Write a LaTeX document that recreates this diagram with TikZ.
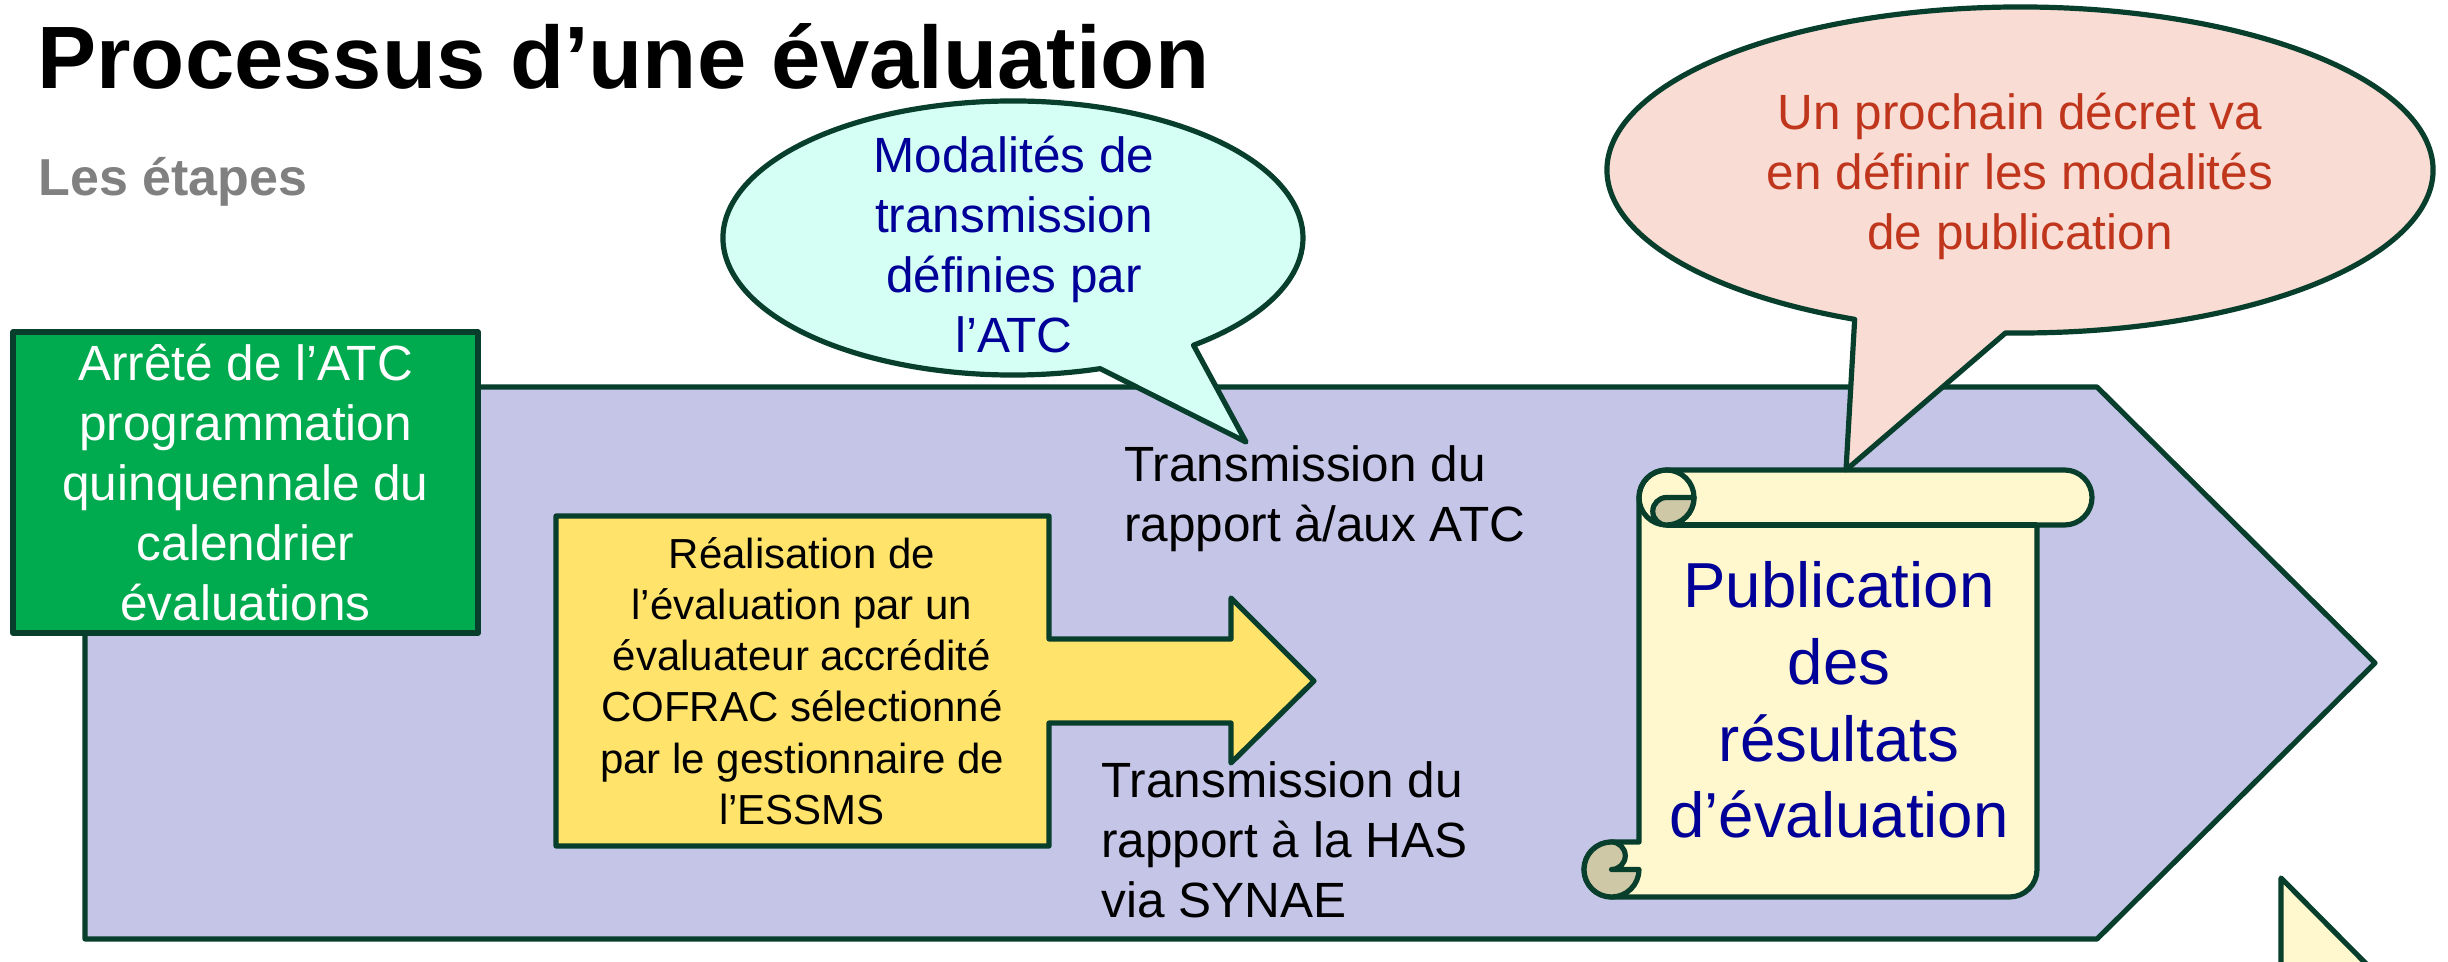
\documentclass[tikz,border=0pt]{standalone}
\usepackage{fontspec}
\setmainfont{Liberation Sans}
\usetikzlibrary{calc}

\definecolor{bord}{RGB}{8,62,44}
\definecolor{lavande}{RGB}{197,197,232}
\definecolor{vert}{RGB}{0,170,78}
\definecolor{jaune}{RGB}{255,227,107}
\definecolor{cyanclair}{RGB}{213,255,244}
\definecolor{rose}{RGB}{249,220,212}
\definecolor{rouille}{RGB}{192,54,28}
\definecolor{marine}{RGB}{0,0,153}
\definecolor{parchemin}{RGB}{255,248,206}
\definecolor{enroule}{RGB}{207,200,166}
\definecolor{gris}{RGB}{128,128,128}

\begin{document}
\begin{tikzpicture}[
        x=0.5pt, y=-0.5pt,
        contour/.style={draw=bord, line width=2.6pt, line join=round},
        texte/.style={inner sep=0pt, align=center,
          font=\fontsize{24.75}{30}\selectfont},
        petit/.style={inner sep=0pt, align=center,
          font=\fontsize{21}{25.6}\selectfont},
        grand/.style={inner sep=0pt, align=center, text=marine,
          font=\fontsize{31.8}{38.35}\selectfont}
      ]
        % cadre
        \useasboundingbox (0,0) rectangle (2448,962);
        % titre
        \node[anchor=base west, inner sep=0pt,
          font=\bfseries\fontsize{44.3}{50}\selectfont] (titre) at (37,89) {Processus d’une évaluation};
        \node[anchor=base west, inner sep=0pt, text=gris,
          font=\bfseries\fontsize{26}{30}\selectfont] (etapes) at (38,196) {Les étapes};
        % grande flèche
        \draw[contour, fill=lavande] (85,387) -- (2097,387) -- (2375,663)
          -- (2097,939) -- (85,939) -- cycle;
        % arrêté
        \node[texte, contour, fill=vert, text=white, minimum width=232.5pt,
          minimum height=150.5pt] (arrete) at (245.5,482.5)
          {Arrêté de l’ATC\\programmation\\quinquennale du\\calendrier\\évaluations};
        % flèche jaune
        \draw[contour, fill=jaune] (556,516) -- (1049,516) -- (1049,639)
          -- (1231,639) -- (1231,598) -- (1314,681) -- (1231,763)
          -- (1231,723) -- (1049,723) -- (1049,846) -- (556,846) -- cycle;
        \node[petit] (realisation) at (802,681)
          {Réalisation de\\l’évaluation par un\\évaluateur accrédité\\COFRAC sélectionné\\par le gestionnaire de\\l’ESSMS};
        % bulle modalités
        \coordinate (cbulle) at (1013,238);
        \coordinate (cpointe) at (1246,442);
        \draw[contour, fill=cyanclair] (cpointe) -- ($(cbulle)+(72.5:290 and 137)$)
          arc[start angle=72.5, end angle=411.5, x radius=290, y radius=137] -- cycle;
        \node[texte, text=marine] (modalites) at (1014,245)
          {Modalités de\\transmission\\définies par\\l’ATC};
        % transmissions
        \node[texte, align=left, anchor=west] (versatc) at (1124,499)
          {Transmission du\\rapport à/aux ATC};
        \node[texte, align=left, anchor=west] (vershas) at (1101,840)
          {Transmission du\\rapport à la HAS\\via SYNAE};
        % parchemin
        \draw[contour, fill=parchemin] (1611.5,842)
          arc[start angle=270, end angle=90, radius=27.5] -- (2009.5,897)
          arc[start angle=90, end angle=0, radius=27.5] -- (2037,525) -- (2064.5,525)
          arc[start angle=90, end angle=-90, radius=27.5] -- (1666.5,470)
          arc[start angle=270, end angle=180, radius=27.5] -- (1639,842) -- cycle;
        \draw[contour] (1666.5,497.5) circle[radius=27.5];
        \draw[contour] (1666.5,525) -- (2037,525);
        \draw[contour, fill=enroule] (1666.5,497.5)
          arc[start angle=270, end angle=90, radius=13.75]
          arc[start angle=90, end angle=0, radius=27.5] -- cycle;
        \draw[contour, fill=enroule] (1611.5,869.5) -- (1639,869.5)
          arc[start angle=0, end angle=270, radius=27.5]
          arc[start angle=270, end angle=450, radius=13.75] -- cycle;
        \node[grand] (publication) at (1839,700)
          {Publication\\des\\résultats\\d’évaluation};
        % bulle décret
        \coordinate (dbulle) at (2020,170);
        \coordinate (dpointe) at (1846,470);
        \draw[contour, fill=rose] (dpointe) -- ($(dbulle)+(113.6:413 and 163)$)
          arc[start angle=113.6, end angle=452, x radius=413, y radius=163] -- cycle;
        \node[texte, text=rouille] (decret) at (2020,176)
          {Un prochain décret va\\en définir les modalités\\de publication};
        % flèche suivante
        \draw[contour, fill=parchemin] (2281,1010) -- (2281,878) -- (2412,1010);
      \end{tikzpicture}
\end{document}
